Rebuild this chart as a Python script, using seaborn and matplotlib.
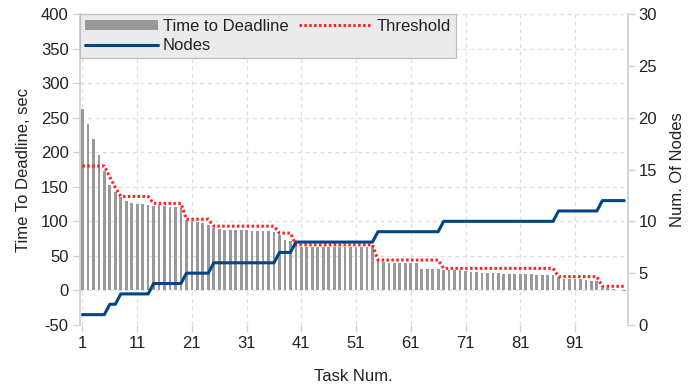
import matplotlib
matplotlib.use("Agg")
import matplotlib.pyplot as plt
import pandas as pd
import seaborn as sns
from matplotlib.patches import Patch
from matplotlib.lines import Line2D

tasks = list(range(1, 101))
time_to_deadline = [
    262, 241, 219, 196, 173, 153, 143, 135, 129, 126,
    125, 125, 123, 122, 123, 122, 121, 121, 120, 102,
    100, 99, 97, 95, 91, 89, 88, 88, 87, 87,
    87, 86, 86, 86, 86, 85, 80, 73, 72, 67,
    63, 63, 63, 63, 63, 63, 63, 63, 63, 63,
    63, 63, 63, 63, 42, 41, 40, 40, 40, 40,
    40, 40, 31, 31, 31, 31, 29, 29, 29, 29,
    28, 27, 26, 25, 25, 25, 25, 24, 24, 24,
    24, 24, 24, 23, 23, 22, 22, 18, 17, 17,
    16, 16, 15, 14, 13, 4, 3, 2, 1, -1.5,
]
threshold = [
    180, 180, 180, 180, 180, 164, 149, 136, 136, 136,
    136, 136, 136, 126, 126, 126, 126, 126, 126, 103,
    103, 103, 103, 103, 93, 93, 93, 93, 93, 93,
    93, 93, 93, 93, 93, 93, 83, 83, 83, 66,
    66, 66, 66, 66, 66, 66, 66, 66, 66, 66,
    66, 66, 66, 66, 44, 44, 44, 44, 44, 44,
    44, 44, 44, 44, 44, 44, 32, 32, 32, 32,
    32, 32, 32, 32, 32, 32, 32, 32, 32, 32,
    32, 32, 32, 32, 32, 32, 32, 20, 20, 20,
    20, 20, 20, 20, 20, 6, 6, 6, 6, 6,
]
nodes = [
    1, 1, 1, 1, 1, 2, 2, 3, 3, 3,
    3, 3, 3, 4, 4, 4, 4, 4, 4, 5,
    5, 5, 5, 5, 6, 6, 6, 6, 6, 6,
    6, 6, 6, 6, 6, 6, 7, 7, 7, 8,
    8, 8, 8, 8, 8, 8, 8, 8, 8, 8,
    8, 8, 8, 8, 9, 9, 9, 9, 9, 9,
    9, 9, 9, 9, 9, 9, 10, 10, 10, 10,
    10, 10, 10, 10, 10, 10, 10, 10, 10, 10,
    10, 10, 10, 10, 10, 10, 10, 11, 11, 11,
    11, 11, 11, 11, 11, 12, 12, 12, 12, 12,
]
x_ticks = [1, 11, 21, 31, 41, 51, 61, 71, 81, 91]

BAR = "#999999"
BLUE = "#004586"
RED = "#ff2020"
GRID = "#dedede"
SPINE = "#cfcfcf"
FS = 12

sns.set_theme(style="white")
plt.rcParams['font.family'] = ['Liberation Sans', 'DejaVu Sans']
plt.rcParams['axes.unicode_minus'] = False

df = pd.DataFrame({"task": tasks, "ttd": time_to_deadline,
                   "thr": threshold, "nodes": nodes})

fig = plt.figure(figsize=(6.92, 3.92), dpi=100)
ax = fig.add_axes([0.1152, 0.1709, 0.7916, 0.7934])

sns.barplot(data=df, x="task", y="ttd", native_scale=True, color=BAR,
            saturation=1, width=0.5, errorbar=None, linewidth=0, ax=ax)
sns.lineplot(data=df, x="task", y="thr", color=RED, linewidth=2.2,
             linestyle=(0, (0.8, 0.8)), ax=ax)

ax2 = ax.twinx()
sns.lineplot(data=df, x="task", y="nodes", color=BLUE, linewidth=2.2, ax=ax2)

ax.set_xlim(0.5, 100.6)
ax.set_xticks(x_ticks)
ax.set_xticklabels([str(t) for t in x_ticks])
ax.set_ylim(-50, 400)
ax.set_yticks(range(-50, 401, 50))
ax2.set_ylim(0, 30)
ax2.set_yticks(range(0, 31, 5))

ax.grid(True, linestyle=(0, (3, 3)), color=GRID, linewidth=0.9)
ax.set_axisbelow(True)
ax2.grid(False)

for s in ["top", "bottom", "right"]:
    ax.spines[s].set_visible(False)
ax.spines["left"].set_color(SPINE)
for s in ["top", "bottom", "left"]:
    ax2.spines[s].set_visible(False)
ax2.spines["right"].set_color(SPINE)

ax.tick_params(axis="both", which="both", bottom=True, left=True, length=5,
               width=0.9, color=SPINE, labelsize=FS, labelcolor="#222222", pad=3)
ax2.tick_params(axis="y", right=True, length=5, width=0.9, color=SPINE,
                labelsize=FS, labelcolor="#222222", pad=3)

ax.set_xlabel("Task Num.", fontsize=FS, color="#222222", labelpad=13)
ax.set_ylabel("Time To Deadline, sec", fontsize=FS, color="#222222", labelpad=7)
ax2.set_ylabel("Num. Of Nodes", fontsize=FS, color="#222222", labelpad=9)

handles = [Patch(facecolor=BAR, edgecolor="none"),
           Line2D([], [], color=BLUE, linewidth=2.2),
           Line2D([], [], color=RED, linewidth=2.2, linestyle=(0, (0.8, 0.8)))]
labels = ["Time to Deadline", "Nodes", "Threshold"]
leg = ax2.legend(handles, labels, ncol=2, loc="upper left",
                 bbox_to_anchor=(0, 1), borderaxespad=0, frameon=True,
                 facecolor="#ebebeb", edgecolor="#bdbdbd", framealpha=1,
                 fancybox=False, handlelength=4.4, handleheight=0.6,
                 handletextpad=0.3, columnspacing=0.6, borderpad=0.3,
                 labelspacing=0.25, fontsize=FS)
leg.get_frame().set_linewidth(0.9)
for t in leg.get_texts():
    t.set_color("#222222")

fig.savefig("out.png", dpi=100)
